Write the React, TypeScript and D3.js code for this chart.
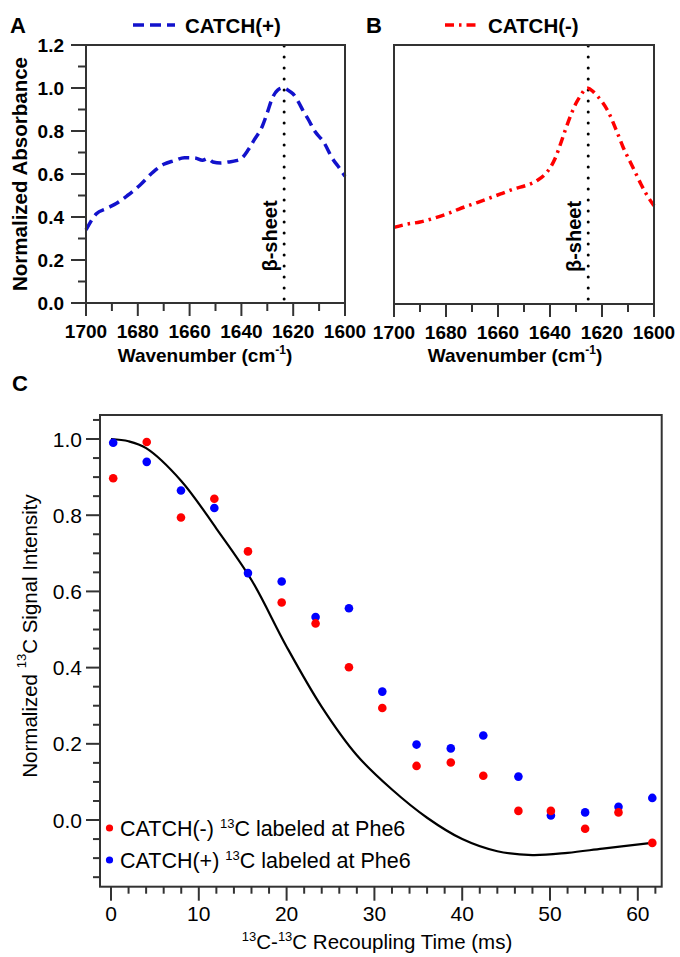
import React from 'react';
import * as d3 from 'd3';

// ---------- Panel A / B data (FTIR) ----------
const wnA = [1700, 1696, 1692, 1688, 1684, 1679, 1674, 1670, 1666, 1662, 1658, 1655, 1653, 1651, 1648, 1645, 1642, 1640, 1637.5, 1635, 1632, 1630, 1628, 1626, 1624, 1622, 1620, 1618, 1616, 1614, 1612, 1608, 1605, 1602, 1600];
const absA = [0.34, 0.415, 0.44, 0.465, 0.5, 0.55, 0.61, 0.645, 0.662, 0.676, 0.675, 0.664, 0.672, 0.656, 0.651, 0.656, 0.662, 0.672, 0.71, 0.76, 0.82, 0.885, 0.955, 0.99, 1.0, 0.99, 0.972, 0.935, 0.89, 0.85, 0.805, 0.744, 0.675, 0.625, 0.59];

const wnB = [1700, 1695, 1690, 1684, 1679, 1675, 1668, 1659, 1654, 1649, 1645, 1642, 1640, 1638, 1636, 1634, 1632, 1630, 1628, 1626.5, 1625.3, 1623.5, 1621.5, 1618, 1614, 1612, 1608, 1605, 1603, 1600];
const absB = [0.355, 0.37, 0.38, 0.4, 0.42, 0.44, 0.47, 0.51, 0.533, 0.55, 0.572, 0.6, 0.63, 0.675, 0.74, 0.81, 0.875, 0.93, 0.97, 0.995, 1.0, 0.985, 0.96, 0.9, 0.79, 0.73, 0.63, 0.555, 0.51, 0.455];

const betaSheetA = 1623.5;
const betaSheetB = 1625.3;

const wnMajorTicks = [1700, 1680, 1660, 1640, 1620, 1600];
const wnMinorTicks = [1690, 1670, 1650, 1630, 1610];
const absMajorTicks = [0, 0.2, 0.4, 0.6, 0.8, 1.0, 1.2];
const absMinorTicks = [0.1, 0.3, 0.5, 0.7, 0.9, 1.1];

// ---------- Panel C data ----------
const recTimes = [0.25, 4.07, 7.97, 11.77, 15.6, 19.44, 23.3, 27.1, 30.9, 34.8, 38.7, 42.4, 46.4, 50.1, 54.0, 57.8, 61.65];
const catchMinus = [0.897, 0.992, 0.794, 0.843, 0.705, 0.571, 0.516, 0.401, 0.294, 0.142, 0.151, 0.116, 0.024, 0.024, -0.023, 0.02, -0.06];
const catchPlus = [0.99, 0.94, 0.865, 0.819, 0.648, 0.626, 0.533, 0.556, 0.337, 0.198, 0.188, 0.222, 0.114, 0.012, 0.02, 0.035, 0.058];

const simTimes = [0, 2, 4, 8, 12, 16, 20, 24, 28, 32, 36, 40, 44, 48, 52, 56, 61.6];
const simValues = [1.0, 0.994, 0.976, 0.89, 0.765, 0.63, 0.455, 0.297, 0.17, 0.08, 0.006, -0.05, -0.082, -0.092, -0.086, -0.075, -0.06];

const cxMajor = [0, 10, 20, 30, 40, 50, 60];
const cxMinor = d3.range(0, 63, 2).filter((v) => v % 10 !== 0);
const cyMajor = [0, 0.2, 0.4, 0.6, 0.8, 1.0];
const cyMinor = [-0.15, -0.1, -0.05, 0.05, 0.1, 0.15, 0.25, 0.3, 0.35, 0.45, 0.5, 0.55, 0.65, 0.7, 0.75, 0.85, 0.9, 0.95, 1.05];

const FONT = '"Liberation Sans", Arial, Helvetica, sans-serif';
const AX = '#333';

function SpectrumPanel({ left, right, top, bottom, wn, ab, color, dash, beta, showY, letter, letterX, legendX1, legendX2, legendTextX, legendText, xLabelCx }) {
  const x = d3.scaleLinear().domain([1700, 1600]).range([left, right]);
  const y = d3.scaleLinear().domain([0, 1.2]).range([bottom, top]);
  const line = d3.line<number>().x((d, i) => x(wn[i])).y((d) => y(d)).curve(d3.curveMonotoneX);
  const bx = x(beta);
  return (
    <g fontFamily={FONT}>
      <text x={letterX} y={33} fontSize={22} fontWeight="bold">{letter}</text>
      <line x1={legendX1} x2={legendX2} y1={25} y2={25} stroke={color} strokeWidth={3.5} strokeDasharray={dash} />
      <text x={legendTextX} y={33} fontSize={20.5} fontWeight="bold">{legendText}</text>
      <line x1={bx} x2={bx} y1={top + 1} y2={bottom - 2} stroke="#000" strokeWidth={3} strokeLinecap="round" strokeDasharray="0 11" />
      <text transform={`translate(${bx - 14},${(top + bottom) / 2 + 62}) rotate(-90)`} textAnchor="middle" dominantBaseline="central" fontSize={20} fontWeight="bold">β-sheet</text>
      <path d={line(ab) || ''} fill="none" stroke={color} strokeWidth={3.5} strokeDasharray={dash} />
      <rect x={left} y={top} width={right - left} height={bottom - top} fill="none" stroke={AX} strokeWidth={2} />
      {wnMajorTicks.map((t) => (
        <g key={'M' + t}>
          <line x1={x(t)} x2={x(t)} y1={bottom} y2={bottom + 13} stroke={AX} strokeWidth={2} />
          <text x={x(t)} y={bottom + 35} textAnchor="middle" fontSize={19} fontWeight="bold">{t}</text>
        </g>
      ))}
      {wnMinorTicks.map((t) => (
        <line key={'m' + t} x1={x(t)} x2={x(t)} y1={bottom} y2={bottom + 8} stroke={AX} strokeWidth={2} />
      ))}
      {showY && absMajorTicks.map((t) => (
        <g key={'yM' + t}>
          <line x1={left - 15} x2={left} y1={y(t)} y2={y(t)} stroke={AX} strokeWidth={2} />
          <text x={left - 22} y={y(t)} textAnchor="end" dominantBaseline="central" fontSize={19} fontWeight="bold">{t.toFixed(1)}</text>
        </g>
      ))}
      {showY && absMinorTicks.map((t) => (
        <line key={'ym' + t} x1={left - 8} x2={left} y1={y(t)} y2={y(t)} stroke={AX} strokeWidth={2} />
      ))}
      {showY && (
        <text transform={`translate(19,${(top + bottom) / 2}) rotate(-90)`} textAnchor="middle" dominantBaseline="central" fontSize={20.5} fontWeight="bold">Normalized Absorbance</text>
      )}
      <text x={xLabelCx} y={362} textAnchor="middle" fontSize={19} fontWeight="bold">
        Wavenumber (cm<tspan fontSize={12} dy={-8}>-1</tspan><tspan dy={8}>)</tspan>
      </text>
    </g>
  );
}

function DephasingPanel() {
  const left = 100, right = 661.7, top = 415, bottom = 886.7;
  const x = d3.scaleLinear().domain([-1.253, 62.72]).range([left, right]);
  const y = d3.scaleLinear().domain([-0.175, 1.063]).range([bottom, top]);
  const line = d3.line<number>().x((d, i) => x(simTimes[i])).y((d) => y(d)).curve(d3.curveCatmullRom.alpha(0.5));
  return (
    <g fontFamily={FONT}>
      <text x={12} y={391} fontSize={22} fontWeight="bold">C</text>
      <path d={line(simValues) || ''} fill="none" stroke="#000" strokeWidth={2.2} />
      {catchPlus.map((v, i) => (
        <circle key={'b' + i} cx={x(recTimes[i])} cy={y(v)} r={4.3} fill="#0000ff" />
      ))}
      {catchMinus.map((v, i) => (
        <circle key={'r' + i} cx={x(recTimes[i])} cy={y(v)} r={4.3} fill="#ff0000" />
      ))}
      <rect x={left} y={top} width={right - left} height={bottom - top} fill="none" stroke={AX} strokeWidth={2} />
      {cxMajor.map((t) => (
        <g key={'xM' + t}>
          <line x1={x(t)} x2={x(t)} y1={bottom} y2={bottom + 14} stroke={AX} strokeWidth={2} />
          <text x={x(t)} y={921} textAnchor="middle" fontSize={21}>{t}</text>
        </g>
      ))}
      {cxMinor.map((t) => (
        <line key={'xm' + t} x1={x(t)} x2={x(t)} y1={bottom} y2={bottom + 7} stroke={AX} strokeWidth={2} />
      ))}
      {cyMajor.map((t) => (
        <g key={'yM' + t}>
          <line x1={left - 14} x2={left} y1={y(t)} y2={y(t)} stroke={AX} strokeWidth={2} />
          <text x={82} y={y(t)} textAnchor="end" dominantBaseline="central" fontSize={21}>{t.toFixed(1)}</text>
        </g>
      ))}
      {cyMinor.map((t) => (
        <line key={'ym' + t} x1={left - 7} x2={left} y1={y(t)} y2={y(t)} stroke={AX} strokeWidth={2} />
      ))}
      <circle cx={109.5} cy={828} r={3.6} fill="#ff0000" />
      <text x={120} y={835.5} fontSize={21.5}>
        CATCH(-) <tspan fontSize={13} dy={-8}>13</tspan><tspan dy={8}>C labeled at Phe6</tspan>
      </text>
      <circle cx={109.5} cy={860} r={3.6} fill="#0000ff" />
      <text x={120} y={867.5} fontSize={21.5}>
        CATCH(+) <tspan fontSize={13} dy={-8}>13</tspan><tspan dy={8}>C labeled at Phe6</tspan>
      </text>
      <text transform={`translate(29,636) rotate(-90)`} textAnchor="middle" dominantBaseline="central" fontSize={20.5}>
        Normalized <tspan fontSize={13} dy={-8}>13</tspan><tspan dy={8}>C Signal Intensity</tspan>
      </text>
      <text x={377} y={949} textAnchor="middle" fontSize={20.5}>
        <tspan fontSize={13} dy={-8}>13</tspan><tspan dy={8}>C-</tspan><tspan fontSize={13} dy={-8}>13</tspan><tspan dy={8}>C Recoupling Time (ms)</tspan>
      </text>
    </g>
  );
}

export default function App() {
  return (
    <svg width={680} height={957} style={{ position: 'absolute', left: 0, top: 0, background: '#fff' }}>
      <rect width={680} height={957} fill="#fff" />
      <SpectrumPanel left={86} right={345} top={45} bottom={303} wn={wnA} ab={absA} color="#1212cc" dash="11 6"
        beta={betaSheetA} showY={true} letter="A" letterX={10} legendX1={133} legendX2={175} legendTextX={185} legendText="CATCH(+)" xLabelCx={205} />
      <SpectrumPanel left={394} right={654} top={45} bottom={304} wn={wnB} ab={absB} color="#ff0000" dash="9 5 2.5 5"
        beta={betaSheetB} showY={false} letter="B" letterX={366} legendX1={445} legendX2={477} legendTextX={488} legendText="CATCH(-)" xLabelCx={515} />
      <DephasingPanel />
    </svg>
  );
}
